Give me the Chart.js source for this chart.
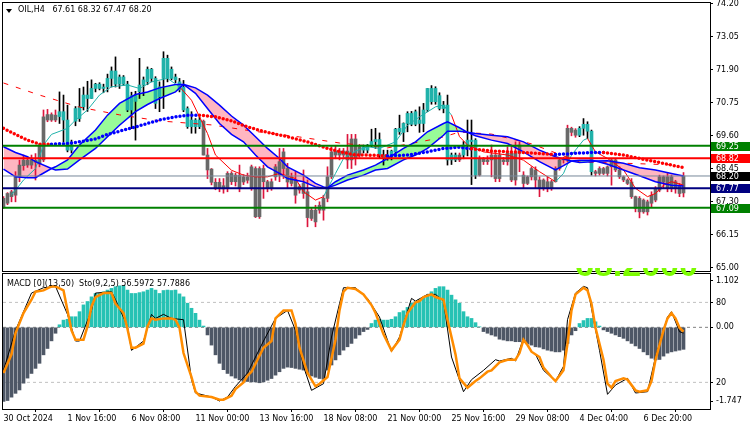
<!DOCTYPE html>
<html>
<head>
<meta charset="utf-8">
<script src="https://cdn.jsdelivr.net/npm/chart.js@4.4.1/dist/chart.umd.min.js"></script>
<style>
  html, body { margin: 0; padding: 0; background: #fff; }
  #wrap { position: relative; width: 750px; height: 430px; overflow: hidden; font-family: "DejaVu Sans", sans-serif; }
  canvas { position: absolute; left: 0; top: 0; }
  .txt { position: absolute; font-size: 8px; line-height: 10px; color: #000; white-space: pre; }
  #tri { position: absolute; left: 6px; top: 9px; width: 0; height: 0; border-left: 3px solid transparent; border-right: 3px solid transparent; border-top: 4px solid #000; }
  #big { position: absolute; left: 575px; top: 268px; width: 132px; height: 9px; overflow: hidden; }
  #big span { position: absolute; left: 0; top: -21px; font: bold 34px "Liberation Sans", sans-serif; line-height: 34px; color: #7cfc00; }
</style>
</head>
<body>
<div id="wrap">
  <canvas id="main" width="750" height="430"></canvas>
  <canvas id="sub" width="750" height="430"></canvas>
  <div id="tri"></div>
  <div class="txt" style="left:18px; top:5px;">OIL,H4   67.61 68.32 67.47 68.20</div>
  <div class="txt" style="left:7px; top:279px;">MACD [0](13,50)  Sto(9,2,5) 56.5972 57.7886</div>
  <div id="big"><span>68.2000</span></div>
</div>
<script>
// ---- candles (H4 bars, index 0 = 30 Oct 2024 00:00) ----
const opens = [67.10,67.25,67.48,67.53,68.17,68.56,68.75,68.58,68.75,68.62,
  68.76,70.15,70.34,70.15,70.27,70.44,70.15,69.10,70.11,70.20,
  70.61,71.02,70.90,71.25,71.40,71.25,71.30,71.60,71.86,71.40,
  71.65,71.40,70.50,71.00,71.14,71.37,71.48,71.92,71.60,70.96,
  71.60,72.30,71.60,71.65,71.48,71.30,70.55,69.92,70.15,69.92,
  70.11,68.93,68.44,67.98,67.77,67.86,67.77,68.29,68.00,68.23,
  67.99,68.17,67.77,68.46,66.78,68.46,68.00,67.77,68.17,68.23,
  68.46,68.46,68.17,68.06,67.83,67.94,67.65,67.01,67.01,67.01,
  67.01,67.42,68.17,68.93,69.07,68.93,69.07,68.76,69.49,68.93,
  69.22,69.10,69.28,69.40,69.47,68.93,68.81,68.93,69.04,69.74,
  69.72,70.03,70.38,70.00,70.15,70.03,70.50,71.25,70.79,71.00,
  70.55,70.67,68.93,68.76,68.93,68.93,69.28,69.45,69.45,68.23,
  68.81,68.70,68.76,68.93,68.11,68.76,68.70,68.99,68.06,68.99,
  68.23,67.94,68.17,68.41,68.06,67.77,68.00,67.77,68.00,68.46,
  68.76,68.76,69.86,69.80,69.62,69.86,70.00,69.76,68.35,68.29,
  68.46,68.29,68.52,68.76,68.41,68.17,68.06,67.99,67.48,67.42,
  66.95,67.30,67.25,67.36,67.71,68.17,67.77,68.17,67.77,67.88,
  67.61];
const highs = [67.48,67.62,67.70,68.35,68.75,68.93,68.85,68.93,68.98,69.33,
  70.50,70.52,70.40,70.50,71.13,71.02,70.67,69.45,70.62,71.25,
  71.30,71.50,71.55,71.43,71.45,71.40,71.75,72.00,72.35,71.72,
  71.70,71.50,71.12,71.15,72.30,71.65,72.00,71.95,71.66,71.48,
  72.53,72.41,72.00,71.75,71.60,71.53,70.61,70.44,70.20,70.25,
  70.15,69.16,68.46,68.11,68.11,68.11,68.35,68.35,68.30,68.58,
  68.25,68.30,68.58,68.52,68.52,68.58,68.05,68.10,68.60,69.16,
  69.16,68.64,68.30,68.35,67.90,68.41,68.06,67.10,67.18,67.30,
  67.53,68.52,69.22,69.25,69.16,69.16,69.65,69.65,69.65,69.30,
  69.28,69.30,69.83,69.86,69.70,69.10,69.10,69.10,69.86,70.32,
  70.05,70.44,70.45,70.50,70.61,70.73,71.25,71.35,71.31,71.10,
  70.80,71.02,69.00,69.00,69.00,69.40,70.15,70.15,69.50,68.90,
  68.85,68.90,69.28,68.95,69.00,68.85,69.22,69.28,69.39,69.39,
  68.35,68.20,68.52,68.52,68.17,68.10,68.17,68.05,68.52,68.80,
  68.85,69.97,69.90,69.85,69.92,70.20,70.09,69.80,68.40,68.52,
  68.50,68.55,68.81,68.80,68.52,68.20,68.10,68.11,67.50,67.48,
  67.40,67.36,67.65,67.83,68.23,68.20,68.29,68.23,68.05,67.94,
  68.32];
const lows = [67.07,67.20,67.30,67.30,68.00,68.40,68.50,68.46,68.06,68.52,
  68.70,70.09,70.10,70.09,70.03,69.39,69.04,69.00,69.95,70.10,
  70.50,70.45,70.90,71.13,71.20,71.10,71.13,71.30,71.30,71.25,
  71.35,70.44,69.85,69.45,70.90,71.00,71.38,71.48,70.55,70.44,
  70.55,71.48,71.55,71.45,71.13,70.44,69.86,69.69,69.69,69.85,
  68.93,68.11,67.89,67.72,67.65,67.60,67.65,67.90,67.85,67.65,
  67.90,67.95,67.70,66.75,66.72,67.42,67.65,67.70,68.05,68.00,
  68.11,67.77,67.85,67.25,67.60,67.42,66.43,66.65,66.43,66.90,
  66.66,67.30,68.11,68.80,68.76,68.85,68.46,68.46,68.58,68.85,
  69.00,69.00,69.22,69.16,68.81,68.58,68.75,68.76,68.93,69.65,
  69.40,69.74,69.95,69.95,69.72,69.74,70.44,70.70,70.70,70.50,
  70.40,68.58,68.60,68.70,68.70,68.80,68.90,67.90,68.11,68.20,
  68.60,68.60,68.17,68.00,68.00,68.60,68.58,68.00,67.88,68.35,
  67.77,67.90,68.06,67.77,67.48,67.70,67.65,67.70,67.99,68.40,
  68.65,68.70,69.60,69.55,69.57,69.62,69.50,68.23,68.20,68.23,
  68.25,68.20,67.88,68.35,68.11,68.00,67.90,67.42,66.95,66.74,
  66.90,66.84,67.13,67.30,67.65,67.77,67.65,67.65,67.60,67.48,
  67.47];
const closes = [67.42,67.59,67.65,68.17,68.58,68.75,68.58,68.75,68.68,69.28,
  70.26,70.34,70.15,70.32,70.44,70.15,69.10,69.28,70.55,70.61,
  71.02,70.90,71.25,71.40,71.25,71.30,71.60,71.86,71.40,71.65,
  71.40,70.50,71.00,70.80,71.37,71.55,71.92,71.60,70.73,71.31,
  72.30,71.60,71.92,71.55,71.20,70.50,69.92,70.15,69.92,70.15,
  68.93,68.41,67.98,67.77,67.98,67.75,68.29,68.00,68.23,67.77,
  68.17,68.05,68.52,66.78,68.46,68.00,67.77,68.00,68.52,68.70,
  69.04,67.99,67.94,67.53,67.71,67.59,66.75,66.72,66.60,67.18,
  67.42,68.17,69.04,69.07,68.93,69.07,68.76,69.49,68.81,69.22,
  69.10,69.28,69.40,69.47,68.93,68.81,68.93,69.07,69.83,69.86,
  70.03,70.38,70.00,70.44,70.03,70.50,71.25,70.79,71.25,70.55,
  70.67,68.76,68.76,68.93,68.76,69.28,69.45,69.40,68.23,68.81,
  68.70,68.76,68.93,68.11,68.93,68.70,68.99,68.06,68.99,69.28,
  67.94,68.17,68.46,68.06,67.77,68.06,67.77,68.00,68.46,68.76,
  68.80,69.86,69.72,69.62,69.86,70.00,69.76,68.35,68.29,68.46,
  68.29,68.52,68.76,68.41,68.17,68.06,67.94,67.48,67.07,66.95,
  67.36,66.95,67.53,67.76,68.17,67.99,68.17,67.77,68.00,67.59,
  68.20];
// bar ranges painted in the bullish (teal) candle colour
const bullRuns = [[14, 49], [90, 113], [115, 118], [144, 147]];

// ---- moving average cloud (fast / slow) ----
const cloudIdx = [0,3,6,8,12,13,16,19,23,26,29,33,36,39,43,45,48,51,54,57,60,63,66,69,71,75,78,80,81,83,86,90,93,96,100,103,106,110,111,114,116,118,122,126,130,134,138,140,142,144,147,148,151,155,159,163,167,170];
const cloudFast = [68.44,68.17,68.14,68.14,68.46,68.52,68.76,69.28,69.80,70.32,70.73,71.04,71.13,71.27,71.39,71.39,71.08,70.55,70.03,69.65,69.39,68.93,68.52,68.29,68.11,68.00,67.82,67.77,67.79,68.00,68.23,68.41,68.58,68.81,69.16,69.39,69.74,70.03,70.09,69.88,69.72,69.60,69.45,69.33,69.04,68.70,68.41,68.56,68.72,68.75,68.75,68.72,68.61,68.41,68.21,68.00,67.88,67.85];
const cloudSlow = [69.22,69.02,68.87,68.70,68.46,68.41,68.44,68.76,69.16,69.57,69.97,70.44,70.69,70.90,71.13,71.39,71.27,71.02,70.67,70.29,69.97,69.57,69.16,68.81,68.52,68.23,67.94,67.82,67.79,67.88,68.06,68.23,68.41,68.46,68.76,68.93,69.16,69.62,69.76,69.76,69.72,69.68,69.62,69.57,69.39,69.10,68.87,68.79,68.72,68.67,68.70,68.72,68.73,68.64,68.49,68.41,68.29,68.20];

// ---- thin fast MA (teal in up runs, red otherwise) ----
const fastLine = [[2,67.55],[4,67.88],[5,68.06],[8,68.46],[10,69.28],[12,69.65],[16,69.86],[18,70.15],[21,70.50],[24,71.02],[27,71.31],[31,71.37],[34,71.25],[37,71.48],[41,71.60],[44,71.31],[47,70.84],[51,69.68],[53,68.93],[57,68.40],[60,68.23],[63,68.17],[66,68.17],[69,68.29],[73,68.11],[75,67.65],[78,67.36],[80,67.48],[83,68.29],[85,68.81],[88,69.07],[91,69.22],[94,69.16],[98,69.39],[101,69.97],[104,70.26],[108,70.61],[110,70.67],[112,70.32],[114,69.57],[116,69.28],[120,69.04],[126,68.93],[130,68.75],[134,68.35],[138,68.00],[140,68.29],[142,68.93],[145,69.45],[146,69.51],[148,69.04],[151,68.81],[155,68.41],[158,67.77],[161,67.48],[163,67.59],[165,67.88],[167,68.00],[170,67.88]];
const fastUpRuns = [[0, 43], [80, 111], [138, 145]];

// ---- dotted slow MA (blue when under price, red when above) ----
const dotLine = [[0,69.86],[3,69.65],[6,69.45],[9,69.31],[12,69.31],[16,69.33],[19,69.39],[23,69.49],[26,69.65],[29,69.76],[33,69.91],[36,70.03],[39,70.15],[43,70.26],[46,70.32],[49,70.32],[53,70.26],[57,70.12],[61,69.91],[66,69.72],[71,69.57],[76,69.39],[81,69.16],[85,69.02],[88,68.93],[91,68.93],[96,68.90],[101,68.93],[106,69.04],[110,69.16],[114,69.20],[117,69.15],[122,69.07],[130,69.02],[138,68.95],[141,68.97],[143,68.99],[147,69.02],[150,69.02],[155,68.93],[160,68.78],[165,68.64],[170,68.49]];
const dotBlueRuns = [[12, 48], [96, 116], [138, 149]];

// ---- higher timeframe MA (red dashes) ----
const htfLine = [[0,71.44],[9,71.02],[19,70.60],[29,70.33],[39,70.12],[49,70.01],[52,69.98],[62,69.77],[74,69.56],[84,69.35],[96,69.18],[109,69.52],[114,69.73],[122,69.66],[132,69.32],[144,68.69],[154,68.65],[169,68.58]];

// ---- horizontal levels ----
const levelPrices = [69.25, 68.82, 68.20, 67.77, 67.09];
const levelColors = ['#008000', '#ff0000', '#778899', '#000080', '#008000'];
const levelWidths = [2, 2, 1, 2, 2];
const levelBoxColors = ['#008000', '#ff0000', '#000000', '#000080', '#008000'];

// ---- lower window: MACD histogram + stochastic ----
const macdHist = [-1.75,-1.73,-1.65,-1.56,-1.48,-1.32,-1.20,-1.09,-0.97,-0.85,
  -0.65,-0.50,-0.32,-0.14,0.06,0.17,0.19,0.25,0.25,0.37,
  0.53,0.61,0.72,0.80,0.80,0.84,0.88,0.92,0.96,0.98,
  0.98,0.88,0.80,0.80,0.82,0.84,0.88,0.92,0.88,0.80,
  0.87,0.88,0.87,0.88,0.79,0.72,0.57,0.45,0.33,0.17,
  0.03,-0.18,-0.42,-0.65,-0.85,-1.00,-1.09,-1.15,-1.20,-1.24,
  -1.28,-1.28,-1.29,-1.29,-1.31,-1.29,-1.25,-1.21,-1.13,-1.05,
  -0.97,-0.94,-0.95,-0.97,-0.99,-1.01,-1.09,-1.15,-1.18,-1.21,
  -1.23,-1.01,-0.89,-0.77,-0.65,-0.54,-0.46,-0.38,-0.26,-0.18,
  -0.10,-0.05,0.09,0.17,0.19,0.17,0.17,0.19,0.25,0.35,
  0.39,0.47,0.57,0.61,0.65,0.69,0.76,0.84,0.92,0.96,
  0.96,0.88,0.76,0.65,0.57,0.37,0.25,0.21,0.11,0.01,
  -0.10,-0.14,-0.18,-0.21,-0.28,-0.30,-0.32,-0.32,-0.34,-0.34,
  -0.36,-0.39,-0.42,-0.46,-0.47,-0.51,-0.54,-0.56,-0.58,-0.58,
  -0.54,-0.38,-0.18,-0.08,0.09,0.16,0.21,0.21,0.13,0.03,
  -0.06,-0.10,-0.14,-0.18,-0.22,-0.26,-0.32,-0.38,-0.44,-0.50,
  -0.58,-0.65,-0.73,-0.77,-0.76,-0.68,-0.61,-0.58,-0.56,-0.54,
  -0.52];
const stochMain = [[0,29],[3,59],[7,87],[10,91],[13,92],[16,71],[18,51],[19,51],[22,74],[23,87],[27,88],[28,82],[31,62],[32,44],[35,51],[37,71],[38,68],[40,71],[42,68],[45,67],[47,22],[48,12],[52,9],[54,6],[56,9],[58,17],[61,27],[65,51],[68,68],[71,74],[73,59],[75,32],[77,14],[80,19],[82,54],[84,79],[85,91],[88,91],[91,83],[94,69],[97,43],[99,54],[102,83],[103,81],[106,86],[108,86],[110,81],[112,39],[115,13],[117,22],[120,29],[123,37],[124,36],[127,38],[128,36],[130,53],[132,43],[133,41],[135,29],[138,21],[140,32],[141,67],[143,87],[145,92],[146,91],[149,44],[151,11],[153,18],[156,23],[158,12],[161,13],[163,39],[166,69],[167,73],[169,58],[170,57]];
const stochSignal = [[0,27],[2,41],[3,57],[5,72],[7,82],[8,88],[10,89],[12,92],[13,92],[15,89],[16,74],[17,59],[18,52],[20,52],[21,62],[22,77],[23,84],[25,87],[26,87],[27,87],[28,79],[30,72],[31,60],[32,46],[33,46],[35,49],[36,62],[37,68],[38,67],[40,68],[42,68],[43,67],[44,61],[45,42],[47,24],[48,13],[49,10],[52,9],[54,7],[55,7],[57,10],[58,15],[60,20],[61,25],[62,28],[63,34],[65,46],[67,51],[68,68],[70,74],[72,74],[73,64],[74,46],[76,27],[78,17],[79,19],[81,24],[83,52],[84,74],[85,88],[86,91],[88,90],[90,86],[92,78],[93,72],[95,56],[97,44],[99,52],[100,63],[101,72],[103,80],[104,81],[105,84],[107,86],[108,84],[110,82],[111,67],[113,41],[114,23],[116,16],[118,21],[119,23],[121,28],[122,29],[124,35],[126,37],[128,37],[129,42],[130,52],[131,48],[132,43],[134,39],[135,31],[137,24],[138,21],[140,29],[141,49],[142,74],[143,86],[145,91],[146,89],[147,79],[148,61],[150,37],[151,19],[152,16],[153,21],[155,23],[156,22],[158,14],[159,13],[161,14],[162,21],[163,37],[165,59],[166,68],[167,72],[168,68],[169,61],[170,58]];
const stochLevels = [80, 20];

// ---- axis ticks ----
const priceTicks = [65.00, 66.15, 67.30, 68.45, 69.60, 70.75, 71.90, 73.05, 74.20];
const macdTicks = [1.102, 0, -1.747];
const timeTickBars = [0, 16, 32, 48, 64, 80, 96, 112, 128, 144, 160];
const timeTickLabels = ['30 Oct 2024', '1 Nov 16:00', '6 Nov 08:00', '11 Nov 00:00', '13 Nov 16:00', '18 Nov 08:00', '21 Nov 00:00', '25 Nov 16:00', '29 Nov 08:00', '4 Dec 04:00', '6 Dec 20:00'];

// x range so that bar i sits at pixel 3.5 + 4*i
const X_MIN = -0.125, X_MAX = 176.625;
const FONT = '"DejaVu Sans", sans-serif';

Chart.defaults.font.family = FONT;
Chart.defaults.font.size = 8;
Chart.defaults.color = '#000';

const inRuns = (runs, x) => runs.some(([a, b]) => x >= a && x <= b);
const pts = pairs => pairs.map(([x, y]) => ({ x, y }));
const bars = closes.map((_, i) => i);
const noPad = s => { s.paddingTop = 0; s.paddingBottom = 0; s.paddingLeft = 0; s.paddingRight = 0; };

// frame + price boxes on the right axis
const mainDecor = {
  id: 'mainDecor',
  afterDraw(chart) {
    const { ctx, chartArea: a, scales: { y } } = chart;
    ctx.save();
    ctx.strokeStyle = '#000';
    ctx.lineWidth = 1;
    ctx.strokeRect(a.left - 0.5, a.top - 0.5, a.right - a.left + 1, a.bottom - a.top + 1);
    ctx.font = '8px ' + FONT;
    ctx.textBaseline = 'middle';
    levelPrices.forEach((p, k) => {
      const py = Math.round(y.getPixelForValue(p));
      ctx.fillStyle = levelBoxColors[k];
      ctx.fillRect(a.right + 1, py - 4, 39, 9);
      ctx.fillStyle = '#fff';
      ctx.fillText(p.toFixed(2), a.right + 6, py + 0.5);
    });
    ctx.restore();
  }
};

const subDecor = {
  id: 'subDecor',
  afterDraw(chart) {
    const { ctx, chartArea: a, scales: { yS } } = chart;
    ctx.save();
    ctx.strokeStyle = '#000';
    ctx.lineWidth = 1;
    ctx.strokeRect(a.left - 0.5, a.top - 0.5, a.right - a.left + 1, a.bottom - a.top + 1);
    ctx.font = '8px ' + FONT;
    ctx.textBaseline = 'middle';
    ctx.fillStyle = '#000';
    stochLevels.forEach(v => {
      const py = Math.round(yS.getPixelForValue(v)) + 0.5;
      ctx.beginPath();
      ctx.moveTo(a.right, py);
      ctx.lineTo(a.right + 3, py);
      ctx.stroke();
      ctx.fillText(String(v), a.right + 6, py);
    });
    ctx.restore();
  }
};

new Chart(document.getElementById('main'), {
  type: 'bar',
  data: {
    datasets: [
      { type: 'line', data: cloudIdx.map((x, k) => ({ x, y: cloudSlow[k] })), borderColor: 'rgba(0,0,0,0)', pointRadius: 0, fill: false, order: 20 },
      { type: 'line', data: cloudIdx.map((x, k) => ({ x, y: cloudFast[k] })), borderColor: 'rgba(0,0,0,0)', pointRadius: 0,
        fill: { target: 0, above: '#98fb98', below: '#ffb6c1' }, order: 19 },
      { type: 'bar', data: bars.map(i => ({ x: i, y: [lows[i], highs[i]] })),
        backgroundColor: bars.map(i => inRuns(bullRuns, i) ? '#000000' : '#dc143c'), barThickness: 1, grouped: false, order: 15 },
      { type: 'bar', data: bars.map(i => ({ x: i, y: [Math.min(opens[i], closes[i]), Math.max(opens[i], closes[i])] })),
        backgroundColor: bars.map(i => inRuns(bullRuns, i) ? '#20b2aa' : '#696969'), barThickness: 3, minBarLength: 1, grouped: false, order: 14 },
      { type: 'line', data: pts(htfLine), borderColor: '#ff0000', borderWidth: 1, borderDash: [5, 8], pointRadius: 0, order: 12 },
      { type: 'line', data: pts(fastLine), borderColor: '#ff0000', borderWidth: 1, pointRadius: 0, order: 11,
        segment: { borderColor: c => inRuns(fastUpRuns, c.p0.parsed.x) ? '#20b2aa' : '#ff0000' } },
      { type: 'line', data: cloudIdx.map((x, k) => ({ x, y: cloudSlow[k] })), borderColor: '#0000ff', borderWidth: 1.5, pointRadius: 0, order: 10 },
      { type: 'line', data: cloudIdx.map((x, k) => ({ x, y: cloudFast[k] })), borderColor: '#0000ff', borderWidth: 1.5, pointRadius: 0, order: 9 },
      { type: 'line', data: pts(dotLine), borderColor: '#ff0000', borderWidth: 3.5, borderDash: [0, 4], borderCapStyle: 'round', pointRadius: 0, order: 8, clip: 0,
        segment: { borderColor: c => inRuns(dotBlueRuns, c.p0.parsed.x) ? '#0000ff' : '#ff0000' } },
      ...levelPrices.map((p, k) => ({ type: 'line', data: [{ x: X_MIN, y: p }, { x: X_MAX, y: p }],
        borderColor: levelColors[k], borderWidth: levelWidths[k], pointRadius: 0, order: 1, clip: 0 }))
    ]
  },
  options: {
    responsive: false,
    animation: false,
    events: [],
    layout: { padding: { left: 3, top: 3, right: 0, bottom: 159 } },
    plugins: { legend: { display: false }, tooltip: { enabled: false } },
    scales: {
      x: { type: 'linear', min: X_MIN, max: X_MAX, offset: false, display: false },
      y: {
        position: 'right', min: 64.889, max: 74.228,
        afterFit: s => { s.width = 40; noPad(s); },
        afterBuildTicks: s => { s.ticks = priceTicks.map(v => ({ value: v })); },
        ticks: { autoSkip: false, padding: 3, color: '#000', callback: v => Number(v).toFixed(2) },
        grid: { drawOnChartArea: false, drawTicks: true, tickLength: 3, color: '#000' },
        border: { display: true, color: '#000' }
      }
    }
  },
  plugins: [mainDecor]
});

new Chart(document.getElementById('sub'), {
  type: 'bar',
  data: {
    datasets: [
      ...stochLevels.map(v => ({ type: 'line', yAxisID: 'yS', data: [{ x: X_MIN, y: v }, { x: X_MAX, y: v }],
        borderColor: '#c0c0c0', borderWidth: 1, borderDash: [3, 3], pointRadius: 0, order: 30 })),
      { type: 'line', yAxisID: 'yM', data: [{ x: X_MIN, y: 0 }, { x: X_MAX, y: 0 }],
        borderColor: '#808080', borderWidth: 1, borderDash: [3, 3], pointRadius: 0, order: 29 },
      { type: 'bar', yAxisID: 'yM', data: bars.map(i => ({ x: i, y: macdHist[i] })),
        backgroundColor: macdHist.map(v => v >= 0 ? '#26c2b4' : '#4e5766'), barThickness: 3, grouped: false, order: 10 },
      { type: 'line', yAxisID: 'yS', data: pts(stochMain), borderColor: '#000000', borderWidth: 1, pointRadius: 0, order: 5 },
      { type: 'line', yAxisID: 'yS', data: pts(stochSignal), borderColor: '#ff8c00', borderWidth: 2.5, pointRadius: 0, order: 4 }
    ]
  },
  options: {
    responsive: false,
    animation: false,
    events: [],
    layout: { padding: { left: 3, top: 274, right: 0, bottom: 0 } },
    plugins: { legend: { display: false }, tooltip: { enabled: false } },
    scales: {
      x: {
        type: 'linear', min: X_MIN, max: X_MAX, offset: false,
        afterFit: s => { s.height = 21; noPad(s); },
        afterBuildTicks: s => { s.ticks = timeTickBars.map(v => ({ value: v })); },
        ticks: { autoSkip: false, maxRotation: 0, align: 'start', padding: 2, color: '#000', callback: (v, i) => timeTickLabels[i] },
        grid: { drawOnChartArea: false, drawTicks: true, tickLength: 3, color: '#000' },
        border: { display: true, color: '#000' }
      },
      yM: {
        position: 'right', min: -1.93, max: 1.26,
        afterFit: s => { s.width = 40; noPad(s); },
        afterBuildTicks: s => { s.ticks = macdTicks.map(v => ({ value: v })); },
        ticks: { autoSkip: false, padding: 3, color: '#000', callback: v => v === 0 ? '0.00' : String(v) },
        grid: { drawOnChartArea: false, drawTicks: true, tickLength: 3, color: '#000' },
        border: { display: true, color: '#000' }
      },
      yS: { display: false, min: 0, max: 101.3 }
    }
  },
  plugins: [subDecor]
});
</script>
</body>
</html>
